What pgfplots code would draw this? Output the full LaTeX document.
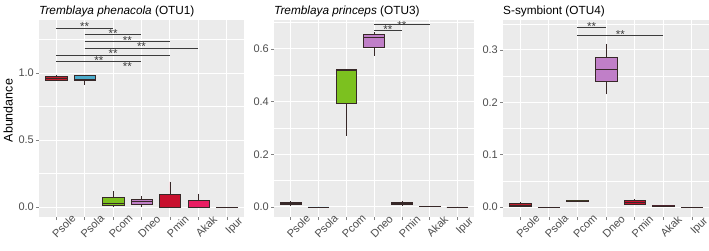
\documentclass[border=0pt]{standalone}
\usepackage{fontspec}
\setmainfont{Liberation Sans}
\usepackage{pgfplots}
\pgfplotsset{compat=1.18}
\usepgfplotslibrary{statistics}

\definecolor{bg}{RGB}{235,235,235}
\definecolor{tickc}{RGB}{77,77,77}
\definecolor{cPsole}{RGB}{190,30,45}
\definecolor{cPsola}{RGB}{75,172,204}
\definecolor{cPcom}{RGB}{124,193,31}
\definecolor{cDneo}{RGB}{192,127,200}
\definecolor{cPmin}{RGB}{200,16,46}
\definecolor{cAkak}{RGB}{233,30,99}
\definecolor{cIpur}{RGB}{120,120,120}
\definecolor{sig}{RGB}{60,60,60}
\definecolor{boxline}{RGB}{55,40,40}

\tikzset{
  stars/.style={font=\fontsize{11.5}{12}\selectfont, text=sig, anchor=base, yshift=-6.3pt, inner sep=0pt},
}
\pgfplotsset{
  panel/.style={
    scale only axis, anchor=south west, height=197pt,
    xmin=-0.6, xmax=6.6,
    xtick={0,1,2,3,4,5,6},
    xticklabels={Psole,Psola,Pcom,Dneo,Pmin,Akak,Ipur},
    axis background/.style={fill=bg},
    axis line style={draw=none},
    grid=both,
    major grid style={white, line width=1pt},
    minor grid style={white, line width=0.5pt},
    xtick pos=bottom, ytick pos=left,
    tick align=outside, major tick length=3pt, minor tick length=0pt,
    tick style={tickc!70, line width=0.5pt},
    ticklabel style={font=\fontsize{11}{12}\selectfont, text=tickc},
    xticklabel style={rotate=45, anchor=center, yshift=-10pt, xshift=1pt},
    /pgf/number format/assume math mode=true,
    yticklabel style={inner sep=2pt, /pgf/number format/fixed, /pgf/number format/fixed zerofill, /pgf/number format/precision=1},
    title style={at={(axis description cs:0,1)}, anchor=base west, yshift=0pt,
      inner sep=0pt, font=\fontsize{11.8}{14}\selectfont},
    clip=false,
    boxplot/draw direction=y,
  },
  sigline/.style={sig, line width=0.8pt, forget plot},
}

% draw position, lower whisker, lower quartile, median, upper quartile, upper whisker, colour
\newcommand{\bx}[7]{%
  \addplot[boxplot prepared={draw position=#1, lower whisker=#2, lower quartile=#3,
    median=#4, upper quartile=#5, upper whisker=#6, box extend=0.75, whisker extend=0},
    fill=#7, draw=boxline, line width=0.4pt] coordinates {};}

\begin{document}
\begin{tikzpicture}
\useasboundingbox (0,0) rectangle (709pt,250pt);

% ---------- Panel 1 ----------
\begin{axis}[panel, at={(39pt,33pt)}, width=205pt,
  ymin=-0.0746, ymax=1.3955,
  ytick={0,0.5,1}, minor ytick={0.25,0.75,1.25},
  title={\textit{Tremblaya phenacola} (OTU1)},
  ylabel={Abundance},
  ylabel style={at={(axis description cs:-0.151,0.54)}, anchor=center,
    font=\fontsize{12.5}{14}\selectfont},
]
\bx{0}{0.945}{0.948}{0.962}{0.976}{0.988}{cPsole}
\bx{1}{0.910}{0.948}{0.955}{0.987}{0.987}{cPsola}
\bx{2}{0.000}{0.010}{0.028}{0.072}{0.120}{cPcom}
\bx{3}{0.000}{0.020}{0.040}{0.057}{0.080}{cDneo}
\bx{4}{0.000}{0.000}{0.000}{0.095}{0.190}{cPmin}
\bx{5}{0.000}{0.000}{0.000}{0.050}{0.100}{cAkak}
\bx{6}{0.000}{0.000}{0.000}{0.000}{0.000}{cIpur}
\addplot[sigline] coordinates {(0,1.335) (2,1.335)};
\addplot[sigline] coordinates {(1,1.285) (3,1.285)};
\addplot[sigline] coordinates {(1,1.235) (4,1.235)};
\addplot[sigline] coordinates {(1,1.185) (5,1.185)};
\addplot[sigline] coordinates {(0,1.135) (4,1.135)};
\addplot[sigline] coordinates {(0,1.085) (3,1.085)};
\node[stars] at (axis cs:1,1.363) {**};
\node[stars] at (axis cs:2,1.313) {**};
\node[stars] at (axis cs:2.5,1.263) {**};
\node[stars] at (axis cs:3,1.214) {**};
\node[stars] at (axis cs:2,1.164) {**};
\node[stars] at (axis cs:1.5,1.114) {**};
\node[stars] at (axis cs:2.5,1.065) {**};
\end{axis}

% ---------- Panel 2 ----------
\begin{axis}[panel, at={(274pt,33pt)}, width=200pt,
  ymin=-0.038, ymax=0.710,
  ytick={0,0.2,0.4,0.6}, minor ytick={0.1,0.3,0.5,0.7},
  title={\textit{Tremblaya princeps} (OTU3)},
]
\bx{0}{0.007}{0.009}{0.014}{0.019}{0.021}{cPsole}
\bx{1}{0.000}{0.000}{0.000}{0.000}{0.000}{cPsola}
\bx{2}{0.271}{0.396}{0.520}{0.523}{0.523}{cPcom}
\bx{3}{0.574}{0.608}{0.643}{0.655}{0.665}{cDneo}
\bx{4}{0.007}{0.009}{0.013}{0.019}{0.021}{cPmin}
\bx{5}{0.002}{0.002}{0.003}{0.004}{0.004}{cAkak}
\bx{6}{0.000}{0.000}{0.000}{0.000}{0.000}{cIpur}
\addplot[sigline] coordinates {(3,0.693) (5,0.693)};
\addplot[sigline] coordinates {(3,0.672) (4,0.672)};
\node[stars] at (axis cs:4,0.699) {**};
\node[stars] at (axis cs:3.5,0.684) {**};
\end{axis}

% ---------- Panel 3 ----------
\begin{axis}[panel, at={(503pt,33pt)}, width=206pt,
  ymin=-0.0191, ymax=0.3573,
  ytick={0,0.1,0.2,0.3}, minor ytick={0.05,0.15,0.25,0.35},
  title={S-symbiont (OTU4)},
]
\bx{0}{0.000}{0.002}{0.004}{0.008}{0.010}{cPsole}
\bx{1}{0.000}{0.000}{0.000}{0.000}{0.000}{cPsola}
\bx{2}{0.011}{0.011}{0.012}{0.013}{0.013}{cPcom}
\bx{3}{0.215}{0.240}{0.263}{0.287}{0.312}{cDneo}
\bx{4}{0.004}{0.006}{0.009}{0.013}{0.015}{cPmin}
\bx{5}{0.001}{0.002}{0.002}{0.003}{0.003}{cAkak}
\bx{6}{0.000}{0.000}{0.000}{0.000}{0.000}{cIpur}
\addplot[sigline] coordinates {(2,0.344) (3,0.344)};
\addplot[sigline] coordinates {(2,0.328) (5,0.328)};
\node[stars] at (axis cs:2.5,0.350) {**};
\node[stars] at (axis cs:3.5,0.334) {**};
\end{axis}
\end{tikzpicture}
\end{document}
